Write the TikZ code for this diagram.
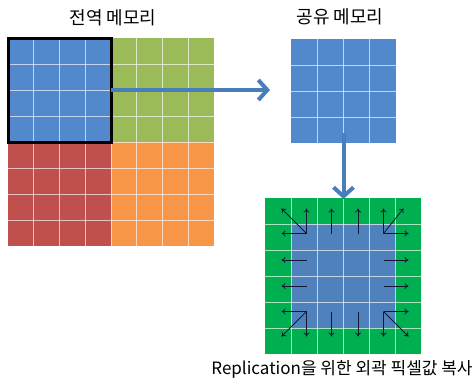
\documentclass[tikz,border=0pt]{standalone}
\usepackage{fontspec}
\setmainfont{Noto Sans CJK KR}
\usetikzlibrary{arrows.meta}
\definecolor{cblue}{RGB}{82,137,205}
\definecolor{cblueb}{RGB}{79,129,189}
\definecolor{cgreen}{RGB}{155,187,89}
\definecolor{cred}{RGB}{192,80,77}
\definecolor{corange}{RGB}{247,150,70}
\definecolor{cbright}{RGB}{0,176,80}
\definecolor{carrow}{RGB}{74,126,187}
\definecolor{cnavy}{RGB}{20,24,50}
\tikzset{
  block/.style={draw=none,inner sep=0pt,outer sep=0pt,minimum width=#1},
  gridline/.style={white,opacity=0.65,line width=0.9pt},
  bigarrow/.style={carrow,line width=4pt,-{Straight Barb[length=9pt,width=20pt,line width=4pt]}},
  small/.style={cnavy,line width=0.8pt,-{To[length=4pt,width=6pt]}},
  title/.style={font=\fontsize{18}{20}\selectfont,inner sep=0pt},
  caption/.style={font=\fontsize{17}{20}\selectfont,inner sep=0pt}
}
\begin{document}
\begin{tikzpicture}[x=1pt,y=-1pt]
\useasboundingbox (0,0) rectangle (476,386);
% global memory quadrants
\node[block=103pt,minimum height=104pt,fill=cblue,anchor=north west] (gb) at (8,38) {};
\node[block=103pt,minimum height=104pt,fill=cgreen,anchor=north west] (gg) at (111,38) {};
\node[block=103pt,minimum height=104pt,fill=cred,anchor=north west] (gr) at (8,142) {};
\node[block=103pt,minimum height=104pt,fill=corange,anchor=north west] (go) at (111,142) {};
\foreach \i in {1,...,7} {
  \draw[gridline] ({8+\i*25.75},38) -- ({8+\i*25.75},246);
  \draw[gridline] (8,{38+\i*26}) -- (214,{38+\i*26});
}
\draw[black,line width=3pt] (gb.north west) rectangle (gb.south east);
\node[title] (tg) at (113,18) {전역 메모리};
% shared memory
\node[block=105pt,minimum height=104pt,fill=cblue,anchor=north west] (sm) at (291,39) {};
\foreach \i in {1,...,3} {
  \draw[gridline] ({291+\i*26.25},39) -- ({291+\i*26.25},143);
  \draw[gridline] (291,{39+\i*26}) -- (396,{39+\i*26});
}
\node[title] (ts) at (340,17) {공유 메모리};
% big arrows
\draw[bigarrow] (gb.east) -- ([xshift=-21pt]sm.west |- gb.east);
% replicated grid
\node[block=156pt,minimum height=156pt,fill=cbright,anchor=north west] (rg) at (265,198) {};
\node[block=104pt,minimum height=104pt,fill=cblueb,anchor=north west] (ri) at (291,224) {};
\foreach \i in {1,...,5} {
  \draw[gridline] ({265+\i*26},198) -- ({265+\i*26},354);
  \draw[gridline] (265,{198+\i*26}) -- (421,{198+\i*26});
}
\draw[bigarrow] ([yshift=10pt]sm.south) -- ([yshift=-1pt]rg.north -| sm.south);
% small replication arrows
\coordinate (tl) at (306.5,233.5);
\coordinate (tr) at (383.5,233.5);
\coordinate (bl) at (306.5,311.5);
\coordinate (br) at (383.5,311.5);
\draw[small] (tl) -- ++(-25,0);
\draw[small] (tl) -- ++(0,-25);
\draw[small] (tl) -- ++(-25,-25);
\draw[small] (tr) -- ++(25,0);
\draw[small] (tr) -- ++(0,-25);
\draw[small] (tr) -- ++(20,-25);
\draw[small] (bl) -- ++(-25,0);
\draw[small] (bl) -- ++(0,25);
\draw[small] (bl) -- ++(-25,25);
\draw[small] (br) -- ++(25,0);
\draw[small] (br) -- ++(0,25);
\draw[small] (br) -- ++(25,25);
\foreach \x in {331.5,358} {
  \draw[small] (\x,233.5) -- ++(0,-25);
  \draw[small] (\x,311.5) -- ++(0,25);
}
\foreach \y in {260,286} {
  \draw[small] (306.5,\y) -- ++(-25,0);
  \draw[small] (383.5,\y) -- ++(25,0);
}
\node[caption] (tr2) at (342,369) {Replication을 위한 외곽 픽셀값 복사};
\end{tikzpicture}
\end{document}
